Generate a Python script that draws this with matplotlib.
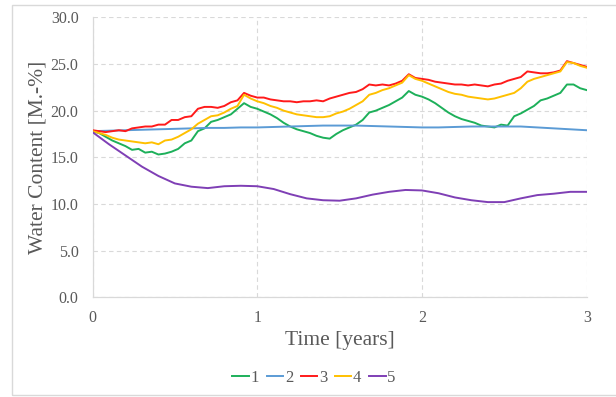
import numpy as np
import matplotlib
matplotlib.use("Agg")
import matplotlib.pyplot as plt
from matplotlib.lines import Line2D

plt.rcParams['font.family'] = ['Liberation Serif', 'DejaVu Serif']

# Simulation time (years)
t_fine = np.round(np.arange(0, 3.0001, 0.04), 2)
t_smooth = np.round(np.arange(0, 3.0001, 0.1), 2)

series_labels = ["1", "2", "3", "4", "5"]

wc_1 = [17.8, 17.6, 17.2, 16.8, 16.5, 16.2, 15.8, 15.9, 15.5, 15.6,
        15.3, 15.4, 15.6, 15.9, 16.5, 16.8, 17.8, 18.1, 18.8, 19.0,
        19.3, 19.6, 20.2, 20.8, 20.4, 20.2, 19.9, 19.6, 19.2, 18.7,
        18.3, 18.0, 17.8, 17.6, 17.3, 17.1, 17.0, 17.5, 17.9, 18.2,
        18.5, 19.0, 19.8, 20.0, 20.3, 20.6, 21.0, 21.4, 22.1, 21.7,
        21.5, 21.2, 20.8, 20.3, 19.8, 19.4, 19.1, 18.9, 18.7, 18.4,
        18.3, 18.2, 18.5, 18.4, 19.4, 19.7, 20.1, 20.5, 21.1, 21.3,
        21.6, 21.9, 22.8, 22.8, 22.4, 22.2]

wc_3 = [17.9, 17.8, 17.7, 17.8, 17.9, 17.8, 18.1, 18.2, 18.3, 18.3,
        18.5, 18.5, 19.0, 19.0, 19.3, 19.4, 20.2, 20.4, 20.4, 20.3,
        20.5, 20.9, 21.1, 21.9, 21.6, 21.4, 21.4, 21.2, 21.1, 21.0,
        21.0, 20.9, 21.0, 21.0, 21.1, 21.0, 21.3, 21.5, 21.7, 21.9,
        22.0, 22.3, 22.8, 22.7, 22.8, 22.7, 22.9, 23.2, 23.9, 23.5,
        23.4, 23.3, 23.1, 23.0, 22.9, 22.8, 22.8, 22.7, 22.8, 22.7,
        22.6, 22.8, 22.9, 23.2, 23.4, 23.6, 24.2, 24.1, 24.0, 24.0,
        24.1, 24.3, 25.3, 25.1, 24.9, 24.7]

wc_4 = [17.8, 17.6, 17.4, 17.1, 16.9, 16.8, 16.7, 16.6, 16.5, 16.6,
        16.4, 16.8, 16.9, 17.2, 17.6, 18.0, 18.6, 19.0, 19.4, 19.5,
        19.8, 20.2, 20.5, 21.7, 21.3, 21.0, 20.8, 20.5, 20.3, 20.0,
        19.8, 19.6, 19.5, 19.4, 19.3, 19.3, 19.4, 19.7, 19.9, 20.2,
        20.6, 21.0, 21.7, 21.9, 22.2, 22.4, 22.7, 23.0, 23.8, 23.4,
        23.2, 22.9, 22.6, 22.3, 22.0, 21.8, 21.7, 21.5, 21.4, 21.3,
        21.2, 21.3, 21.5, 21.7, 21.9, 22.4, 23.1, 23.4, 23.6, 23.8,
        24.0, 24.2, 25.2, 25.1, 24.8, 24.6]

wc_2 = [17.8, 17.85, 17.9, 17.95, 18.0, 18.05, 18.1, 18.15, 18.15, 18.2,
        18.2, 18.25, 18.3, 18.35, 18.4, 18.4, 18.4, 18.35, 18.3, 18.25,
        18.2, 18.2, 18.25, 18.3, 18.3, 18.3, 18.3, 18.2, 18.1, 18.0,
        17.9]

wc_5 = [17.7, 16.4, 15.2, 14.0, 13.0, 12.2, 11.85, 11.7, 11.9, 11.95,
        11.9, 11.6, 11.05, 10.6, 10.4, 10.35, 10.6, 11.0, 11.3, 11.5,
        11.45, 11.15, 10.7, 10.4, 10.2, 10.2, 10.6, 10.95, 11.1, 11.3,
        11.3]

colors = ["#1DB05A", "#5B9BD5", "#FF1A1A", "#FFC000", "#7F3FB5"]
x_ticks = [0, 1, 2, 3]
y_ticks = [0, 5, 10, 15, 20, 25, 30]

text_color = "#595959"
grid_color = "#D9D9D9"

fig = plt.figure(figsize=(6.16, 3.97), dpi=100)

# light frame around the figure (top, left, bottom)
frame = plt.Rectangle((12.3 / 616, 2.5 / 397), 1.0, (392.5 - 2.5) / 397,
                      transform=fig.transFigure, fill=False,
                      edgecolor="#D9D9D9", linewidth=1.0, zorder=0)
fig.patches.append(frame)

ax = fig.add_axes([92.5 / 616, (397 - 297.3) / 397,
                   (586.7 - 92.5) / 616, (297.3 - 17.3) / 397])

data = [(t_fine, wc_1), (t_smooth, wc_2), (t_fine, wc_3),
        (t_fine, wc_4), (t_smooth, wc_5)]
draw_order = [1, 4, 0, 3, 2]
for i in draw_order:
    tx, vals = data[i]
    ax.plot(tx, vals, color=colors[i], linewidth=1.4, zorder=3 + i * 0.1,
            solid_joinstyle="round")

ax.set_xlim(0, 3)
ax.set_ylim(0, 30)
ax.set_xticks(x_ticks)
ax.set_xticklabels([str(v) for v in x_ticks])
ax.set_yticks(y_ticks)
ax.set_yticklabels([f"{v:.1f}" for v in y_ticks])

ax.grid(True, linestyle=(0, (4, 3)), color=grid_color, linewidth=0.8, zorder=0)
ax.set_axisbelow(True)

for side in ["top", "right"]:
    ax.spines[side].set_visible(False)
for side in ["left", "bottom"]:
    ax.spines[side].set_color(grid_color)
    ax.spines[side].set_linewidth(0.9)

ax.tick_params(axis="both", length=0, labelsize=11.5, labelcolor=text_color)
ax.tick_params(axis="x", pad=9)
ax.tick_params(axis="y", pad=10)

ax.set_xlabel("Time [years]", fontsize=15.5, color=text_color, labelpad=4)
ax.set_ylabel("Water Content [M.-%]", fontsize=15.5, color=text_color, labelpad=2)

handles = [Line2D([0], [0], color=c, linewidth=1.4) for c in colors]
fig.legend(handles, series_labels, loc="center", ncol=5, frameon=False,
           bbox_to_anchor=(314 / 616, 1 - 378 / 397), fontsize=12,
           handlelength=1.0, handletextpad=0.1, columnspacing=0.45,
           labelcolor=text_color)

fig.savefig("out.png", dpi=100)
